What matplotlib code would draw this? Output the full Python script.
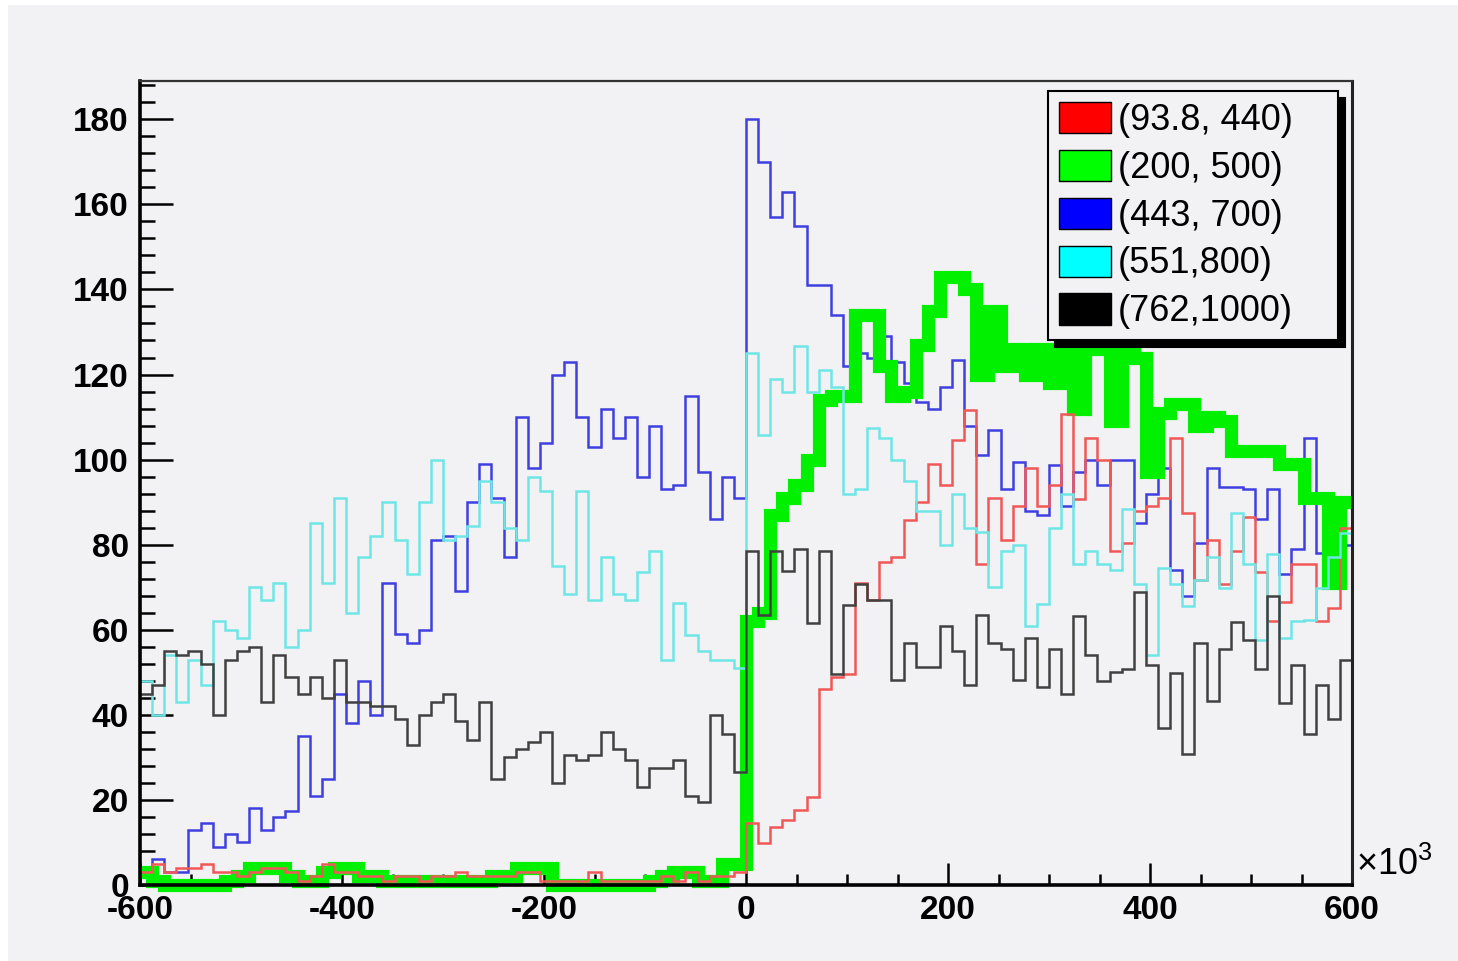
import numpy as np
import matplotlib
matplotlib.use("Agg")
import matplotlib.pyplot as plt
from matplotlib.patches import Patch, Rectangle
from matplotlib.ticker import MultipleLocator

# 100 bins from -600 to 600 (x10^3)
edges = np.linspace(-600, 600, 101)

red = [3, 5, 3, 4, 4, 5, 3, 3, 2, 3, 4, 4, 3, 1, 2, 5, 3, 3, 2, 2, 1, 2, 2, 1, 2,
       2, 3, 2, 2, 2, 2, 3, 3, 1, 1, 1, 1, 3, 1, 1, 1, 1, 1, 2, 1, 3, 1, 2, 2, 3,
       14.5, 9.8, 13.7, 15.3, 17.6, 20.8, 46, 49, 49.5, 71, 67, 76, 77, 85.7, 90, 99, 94, 104.5, 111.7, 75.5,
       91, 81, 89, 98, 89,
       94, 110.7, 90.7, 105, 100, 78.6, 80.5, 88, 89, 91, 105, 87.5, 71.7, 81, 70.7, 78.6, 86.6, 73.5, 62, 66.5,
       75.4, 75.4, 62, 65, 84]

green = [3, 1, 0, 0, 0, 0, 0, 1, 2, 4, 4, 4, 2, 1, 1, 3, 4, 4, 2, 2, 1, 1, 1, 1, 1,
         1, 1, 1, 1, 2, 2, 4, 4, 4, 0, 0, 0, 0, 0, 0, 0, 0, 1, 2, 3, 3, 1, 1, 5, 5,
         62, 64, 87, 91, 94, 100, 114, 115, 115, 134, 134, 122, 115, 116, 127, 135, 143, 143, 140, 120,
         135, 122, 126, 120, 126,
         118, 126, 112, 126, 126, 109, 126, 124, 97, 111, 113, 113, 108, 110, 109, 102, 102, 102, 102, 99,
         99, 91, 91, 71, 90]

blue = [2, 6, 3, 3, 13, 14.5, 9, 12, 10, 18, 13, 16, 17.5, 35, 21, 25, 45, 38, 48, 40, 71, 59, 57, 60, 81,
        82, 69, 90, 99, 91, 77, 110, 98, 104, 120, 123, 110, 103, 112, 105, 110, 96, 108, 93, 94, 115, 97, 86, 96, 91,
        180, 170, 157, 163, 155, 141, 141, 134, 122, 125, 124, 129, 123, 118, 113.5, 112, 117, 123.5, 108, 101,
        107, 93, 99.5, 88, 87,
        98.7, 89, 97, 100, 94, 100, 100, 85, 92, 98, 74, 68, 80.5, 98, 93.5, 93.5, 93, 86, 93, 73,
        79, 105, 78, 75, 80]

cyan = [48, 40, 54, 43, 53, 47, 62, 60, 58, 70, 67, 71, 56, 60, 85, 71, 91, 64, 77, 82, 90, 81, 73, 90, 100,
        81, 82, 84.5, 95, 90, 84, 81, 96, 92.6, 75, 68.5, 92.6, 67, 77, 68.5, 67, 73.5, 78.6, 53, 66.4, 58.7, 55, 53, 53, 51,
        125, 105.7, 119, 116, 126.8, 116, 121, 117, 92, 93, 107.5, 105, 100, 95, 88, 88, 80, 92, 84, 83,
        70, 78.5, 80, 61, 66,
        84, 92, 75.4, 78.6, 75.4, 74, 88.4, 70.7, 54, 74.5, 70.7, 65.6, 71.7, 77, 69.8, 87.5, 75.4, 57.7, 77.7, 58,
        62, 62.4, 69.8, 77, 82.8]

black = [45, 47, 55, 54, 55, 52, 40, 53, 55, 56, 43, 54, 49, 45, 49, 44, 53, 43, 43, 42, 42, 39, 33, 40, 43,
         45, 38.5, 34, 43, 25, 30, 32, 33.5, 36, 24, 30.5, 29.5, 30.5, 36, 32, 29.5, 23, 27.5, 27.5, 29.5, 21, 19.5, 40, 35.5, 26.6,
         78.5, 63.4, 78.5, 73.7, 79, 61.6, 78.5, 49.5, 65.8, 70.7, 67, 67, 48.3, 56.8, 51.3, 51.3, 61, 55, 47, 63.4,
         56.8, 55.5, 48.3, 58, 46.5,
         55.4, 45, 63.3, 54, 48, 50, 50.7, 68.9, 51.7, 36.8, 49.8, 30.7, 56.8, 43.3, 55.4, 61.9, 57.7, 50.7, 68, 42.8,
         51.7, 35.4, 47, 39, 53]

labels = ["(93.8, 440)", "(200, 500)", "(443, 700)", "(551,800)", "(762,1000)"]
legend_colors = ["#ff0000", "#00ff00", "#0000ff", "#00ffff", "#000000"]

bg = "#f2f2f4"
plt.rcParams['font.family'] = ['Liberation Sans', 'DejaVu Sans']
plt.rcParams['mathtext.fontset'] = 'custom'
plt.rcParams['mathtext.rm'] = 'Liberation Sans'

W, H = 1458, 961
fig = plt.figure(figsize=(W / 100, H / 100), dpi=100, facecolor="white")
fig.patches.append(Rectangle((8 / W, 0), 1, (H - 5) / H, transform=fig.transFigure,
                             facecolor=bg, edgecolor="none", zorder=-10))

ax = fig.add_axes([140 / W, 76 / H, 1212 / W, 804 / H])
ax.set_facecolor(bg)

# blue first (it sets the range), then the rest on top
series = [
    (blue, "#3f3fe0", 1.8, 2),
    (green, "#00f000", 9.5, 3),
    (red, "#f05858", 1.8, 4),
    (cyan, "#6fe6e6", 1.8, 4),
    (black, "#404040", 1.8, 5),
]
for vals, col, lw, z in series:
    st = ax.stairs(vals, edges, baseline=None, color=col, linewidth=lw, zorder=z, clip_on=False)
    st.set_joinstyle('miter')

ax.set_xlim(-600, 600)
ax.set_ylim(0, 189)

ax.set_xticks(np.arange(-600, 601, 200))
ax.set_xticklabels([str(v) for v in range(-600, 601, 200)])
ax.xaxis.set_minor_locator(MultipleLocator(50))
ax.set_yticks(np.arange(0, 181, 20))
ax.set_yticklabels([str(v) for v in range(0, 181, 20)])
ax.yaxis.set_minor_locator(MultipleLocator(4))

ax.tick_params(axis='x', which='major', direction='in', length=16, width=1.8, pad=7,
               labelsize=24, top=False)
ax.tick_params(axis='x', which='minor', direction='in', length=8, width=1.8, top=False)
ax.tick_params(axis='y', which='major', direction='in', length=24, width=1.8, pad=8,
               labelsize=24, right=False)
ax.tick_params(axis='y', which='minor', direction='in', length=11, width=1.8, right=False)
for lab in ax.get_xticklabels() + ax.get_yticklabels():
    lab.set_fontweight('bold')

ax.spines['left'].set_linewidth(2.6)
ax.spines['bottom'].set_linewidth(2.6)
ax.spines['top'].set_linewidth(1.6)
ax.spines['top'].set_color('#333333')
ax.spines['right'].set_linewidth(2.2)
ax.spines['right'].set_color('#222222')
for sp in ax.spines.values():
    sp.set_zorder(6)

ax.text(1.003, 0.002, r'$\mathregular{\times10^{3}}$', transform=ax.transAxes,
        fontsize=26, ha='left', va='bottom')

handles = [Patch(facecolor=c, edgecolor='black', linewidth=1.0) for c in legend_colors]
leg = ax.legend(handles, labels, loc='upper left',
                bbox_to_anchor=(0.749, 0.6878, 0.2394, 0.2998), mode='expand',
                borderaxespad=0, borderpad=0.3, handlelength=1.45, handleheight=0.95,
                handletextpad=0.2, labelspacing=0.33, fontsize=26,
                fancybox=False, framealpha=1, facecolor=bg, edgecolor='black',
                shadow={'ox': 5, 'oy': -5, 'facecolor': 'black', 'edgecolor': 'black', 'alpha': 1})
leg.get_frame().set_linewidth(1.5)
leg.set_zorder(10)

fig.savefig("out.png", dpi=100, facecolor=fig.get_facecolor())
